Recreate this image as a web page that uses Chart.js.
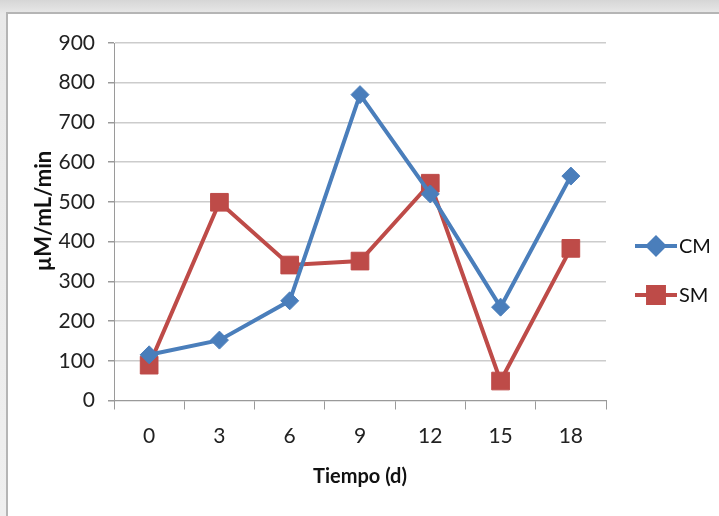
<!DOCTYPE html>
<html>
<head>
<meta charset="utf-8">
<script src="https://cdn.jsdelivr.net/npm/chart.js@4.4.0/dist/chart.umd.min.js"></script>
<style>
  html, body { margin: 0; padding: 0; width: 719px; height: 516px; overflow: hidden;
    background: linear-gradient(to bottom, #d6d6d6 0px, #e9e9e9 14px, #efefef 100%); }
  #marco { position: absolute; left: 6px; top: 12px; width: 730px; height: 520px;
    background: #fff; border: 2px solid #b5b5b5; }
  #caja { position: absolute; left: 0; top: 0; width: 719px; height: 516px; }
</style>
</head>
<body>
<div id="marco"></div>
<div id="caja"><canvas id="grafico" width="719" height="516"></canvas></div>
<script>
const dias = ['0', '3', '6', '9', '12', '15', '18'];
const valoresCM = [115, 152, 251, 770, 520, 235, 565];
const valoresSM = [89, 499, 341, 351, 547, 49, 383];
const yMin = 0;
const yMax = 900;
const yPaso = 100;

const azul = '#4a7ebb';
const rojo = '#be4b48';
const fuente = 'Lato, "Open Sans", sans-serif';

// leyenda a la derecha: linea con marcador y texto
const leyenda = {
  id: 'leyenda',
  afterDraw(chart) {
    const ctx = chart.ctx;
    const filas = [246, 295];
    chart.data.datasets.forEach((ds, i) => {
      const y = filas[i];
      ctx.save();
      ctx.strokeStyle = ds.borderColor;
      ctx.lineWidth = 4;
      ctx.beginPath();
      ctx.moveTo(635, y);
      ctx.lineTo(677, y);
      ctx.stroke();
      Chart.helpers.drawPoint(ctx, {
        pointStyle: ds.pointStyle,
        radius: ds.pointRadius * 0.9,
        borderWidth: 1
      }, 656, y);
      ctx.fillStyle = ds.borderColor;
      ctx.fill();
      ctx.fillStyle = '#111';
      ctx.font = '20px ' + fuente;
      ctx.textBaseline = 'middle';
      ctx.fillText(ds.label, 679, y + 1);
      ctx.restore();
    });
  }
};

const ctx = document.getElementById('grafico').getContext('2d');
const grafico = new Chart(ctx, {
  type: 'line',
  data: {
    labels: dias,
    datasets: [{
      label: 'CM',
      data: valoresCM,
      borderColor: azul,
      backgroundColor: azul,
      borderWidth: 4,
      pointStyle: 'rectRot',
      pointRadius: 9,
      pointHoverRadius: 9,
      pointBorderWidth: 1,
      tension: 0
    }, {
      label: 'SM',
      data: valoresSM,
      borderColor: rojo,
      backgroundColor: rojo,
      borderWidth: 4,
      pointStyle: 'rect',
      pointRadius: 12.5,
      pointHoverRadius: 12.5,
      pointBorderWidth: 1,
      tension: 0
    }]
  },
  options: {
    responsive: false,
    animation: false,
    layout: { padding: { left: 0, top: 43, right: 113, bottom: 0 } },
    plugins: {
      legend: { display: false },
      tooltip: { enabled: false }
    },
    scales: {
      x: {
        offset: true,
        afterFit: (s) => { s.height = 115.5; },
        grid: { display: true, offset: true, drawOnChartArea: false, tickLength: 9, tickColor: '#9a9a9a' },
        border: { color: '#9a9a9a', width: 1 },
        ticks: { color: '#222', padding: 14, font: { family: fuente, size: 21 } },
        title: {
          display: true,
          text: 'Tiempo (d)',
          color: '#111',
          padding: { top: 0, bottom: 27 },
          font: { family: fuente, size: 20, weight: 'bold' }
        }
      },
      y: {
        min: yMin,
        max: yMax,
        afterFit: (s) => { s.width = 114; },
        grid: { color: '#cccccc', lineWidth: 1.5, tickLength: 6, tickColor: '#9a9a9a' },
        border: { color: '#9a9a9a', width: 1 },
        ticks: { stepSize: yPaso, color: '#222', padding: 13, font: { family: fuente, size: 21 } },
        title: {
          display: true,
          text: '    µM/mL/min',
          color: '#111',
          padding: { top: 31, bottom: 0 },
          font: { family: fuente, size: 22, weight: 'bold' }
        }
      }
    }
  },
  plugins: [leyenda]
});
</script>
</body>
</html>
